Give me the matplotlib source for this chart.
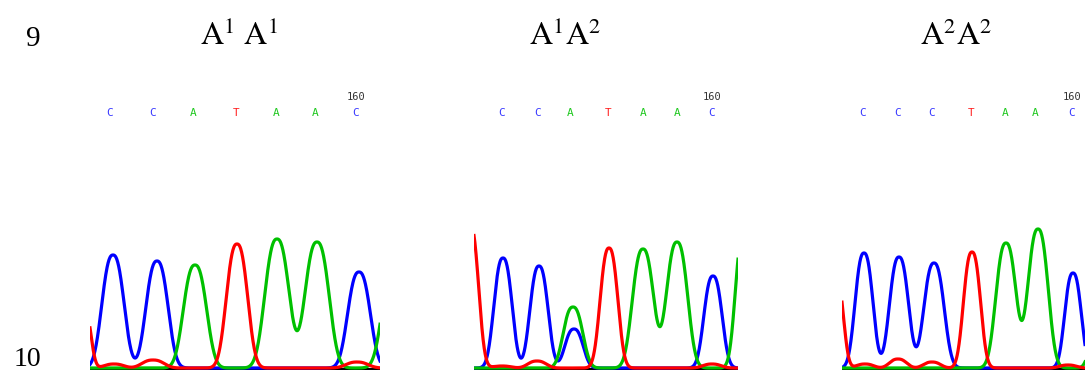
"""Sequencing chromatograms for the three genotypes at position 160."""

import matplotlib as mpl
import matplotlib.pyplot as plt
import numpy as np

mpl.rcParams.update({
    "font.family": "serif",
    "font.serif": ["Liberation Serif", "DejaVu Serif"],
    "mathtext.fontset": "stix",
    "figure.dpi": 100,
})

# ── Data ─────────────────────────────────────────────────────────────

genotypes = [r"$\mathrm{A}^{1}\ \mathrm{A}^{1}$",
             r"$\mathrm{A}^{1}\mathrm{A}^{2}$",
             r"$\mathrm{A}^{2}\mathrm{A}^{2}$"]
row_labels = ["9", "10"]

base_calls = ["CCATAAC", "CCATAAC", "CCCTAAC"]
call_pos_1 = [20, 63, 103, 146, 186, 225, 266]
call_pos_2 = [28, 64, 96, 134, 169, 203, 238]
call_pos_3 = [21, 56, 90, 129, 163, 193, 230]
position_label = "160"          # numbering sits over the last call

scan_range = [290, 264, 243]    # scans shown in each panel

# peaks per channel: (scan, height, width)
p1_blue = [(23, 113, 14.0), (67, 107, 14.0), (269, 96, 14.3)]
p1_green = [(105, 103, 14.7), (187, 129, 15.4), (227, 126, 15.4), (305, 110, 15.5)]
p1_red = [(-6, 61, 8.5), (24, 4, 12.4), (63, 8, 14.0), (147, 124, 13.5), (267, 6, 14.0)]

p2_blue = [(29, 110, 11.5), (65, 102, 11.5), (100, 39, 11.5), (239, 92, 11.5)]
p2_green = [(99, 61, 12.4), (169, 119, 13.5), (203, 126, 13.5), (270, 137, 10.8)]
p2_red = [(-4, 144, 10.8), (28, 2, 11.6), (63, 7, 11.6), (135, 120, 11.2), (238, 4, 11.6)]

p3_blue = [(22, 115, 11.3), (57, 111, 12.1), (92, 105, 12.9), (231, 95, 10.5)]
p3_green = [(164, 125, 12.9), (196, 139, 12.9), (258, 60, 10.8)]
p3_red = [(-6, 92, 9.3), (23, 4, 10.8), (56, 9, 10.8), (90, 6, 10.8), (130, 116, 10.8), (226, 3, 10.8)]

# ── Styling ──────────────────────────────────────────────────────────

trace_colors = {"blue": "#0000ff", "green": "#00c000", "red": "#ff0000"}
call_colors = {"C": "#3a3aff", "A": "#1ec81e", "T": "#ff2020"}
mono = ["Liberation Sans Narrow", "DejaVu Sans Mono"]


def trace(peaks, x):
    # flat-topped peak profile, closer to the sequencer's traces than a gaussian
    y = np.zeros_like(x)
    for pos, h, w in peaks:
        y += h * np.exp(-np.abs((x - pos) / w) ** 2.5)
    return y


W, H = 1085, 370
fig = plt.figure(figsize=(W / 100, H / 100))

panels = [
    (90, scan_range[0], call_pos_1, base_calls[0], p1_blue, p1_green, p1_red),
    (474, scan_range[1], call_pos_2, base_calls[1], p2_blue, p2_green, p2_red),
    (842, scan_range[2], call_pos_3, base_calls[2], p3_blue, p3_green, p3_red),
]

for left, span, cpos, calls, blue, green, red in panels:
    ax = fig.add_axes([left / W, 0, span / W, 290 / H])
    ax.set_xlim(0, span)
    ax.set_ylim(-2, 288)
    ax.axis("off")

    x = np.linspace(0, span, 900)
    ax.axhline(-0.9, color="black", lw=1.6, zorder=1)
    for z, (peaks, name) in enumerate([(blue, "blue"), (green, "green"), (red, "red")]):
        ax.plot(x, trace(peaks, x), color=trace_colors[name], lw=2.3,
                solid_joinstyle="round", zorder=2 + z)

    for base, p in zip(calls, cpos):
        ax.text(p, 255, base, color=call_colors[base], fontsize=8,
                family=mono, ha="center", va="center", clip_on=False)
    ax.text(cpos[-1], 271, position_label, color="#333333", fontsize=7.5,
            family=mono, ha="center", va="center", clip_on=False)

# genotype headings and row numbers
for label, cx in zip(genotypes, [239, 565, 956]):
    fig.text(cx / W, 1 - 45 / H, label, fontsize=23, ha="center", va="baseline")

fig.text(33 / W, 1 - 46 / H, row_labels[0], fontsize=21, ha="center", va="baseline")
fig.text(27 / W, 1 - 366 / H, row_labels[1], fontsize=20, ha="center", va="baseline")

fig.savefig("out.png", dpi=100)
